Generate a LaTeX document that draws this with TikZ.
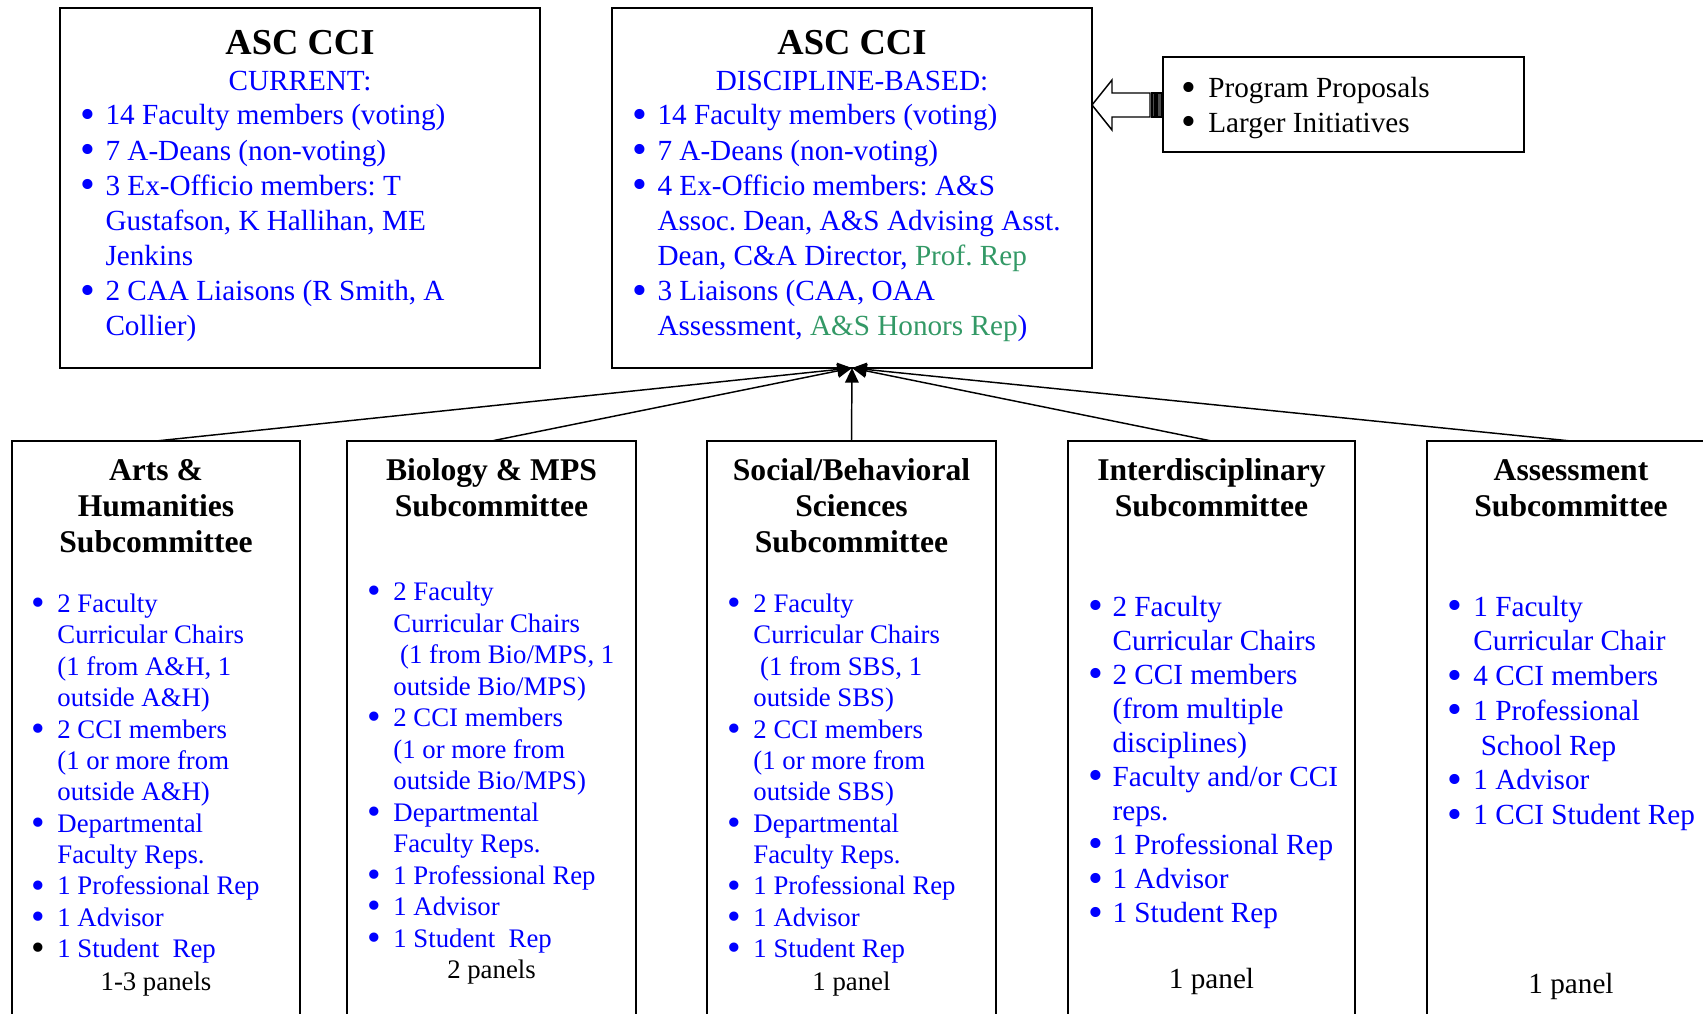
\documentclass[tikz,border=0pt]{standalone}
\usepackage{fontspec}
\setmainfont{Liberation Serif}
\usepackage{array}
\usepackage{graphicx}
\usetikzlibrary{arrows.meta,fit}
\definecolor{listblue}{RGB}{0,0,255}
\definecolor{repgreen}{RGB}{51,153,102}
\newcommand{\bt}{\raisebox{-0.12em}{\scalebox{1.45}{\textbullet}}}
\newcommand{\titlelines}[1]{\begin{tabular}[t]{@{}c@{}}#1\end{tabular}}
\frenchspacing

\begin{document}
\begin{tikzpicture}[
        x=0.411pt, y=-0.411pt,
        box/.style={draw, line width=0.8pt, inner sep=0pt, outer sep=0pt},
        lst/.style={anchor=base west, inner sep=0pt, text=listblue},
        ttl/.style={anchor=base, inner sep=0pt, font=\fontsize{13}{15}\selectfont\bfseries},
        head/.style={anchor=base, inner sep=0pt, font=\fontsize{15}{18}\selectfont\bfseries},
        panel/.style={anchor=base, inner sep=0pt},
        link/.style={line width=0.6pt, -{Triangle[length=6pt,width=5.6pt]}}
    ]
    \useasboundingbox (0,0) rectangle (1703,1014);

    % CCI current
    \node[box, fit={(60,8) (540,368)}] (cur) {};
    \node[head] (curhead) at (300,55) {ASC CCI};
    \node[panel, text=listblue, font=\fontsize{12}{14}\selectfont] (cursub) at (300,91) {CURRENT:};
    \node[lst, font=\fontsize{12}{14.45}\selectfont] (curlst) at (70,125) {%
        \begin{tabular}[t]{@{}wc{14.4pt}@{}l@{}}
            \bt & 14 Faculty members (voting)\\
            \bt & 7 A-Deans (non-voting)\\
            \bt & 3 Ex-Officio members: T\\
                & Gustafson, K Hallihan, ME\\
                & Jenkins\\
            \bt & 2 CAA Liaisons (R Smith, A\\
                & Collier)
        \end{tabular}};

    % CCI discipline-based
    \node[box, fit={(612,8) (1092,368)}] (disc) {};
    \node[head] (dischead) at (852,55) {ASC CCI};
    \node[panel, text=listblue, font=\fontsize{12}{14}\selectfont] (discsub) at (852,91) {DISCIPLINE-BASED:};
    \node[lst, font=\fontsize{12}{14.45}\selectfont] (disclst) at (622,125) {%
        \begin{tabular}[t]{@{}wc{14.4pt}@{}l@{}}
            \bt & 14 Faculty members (voting)\\
            \bt & 7 A-Deans (non-voting)\\
            \bt & 4 Ex-Officio members: A\&S\\
                & Assoc. Dean, A\&S Advising Asst.\\
                & Dean, C\&A Director, \textcolor{repgreen}{Prof. Rep}\\
            \bt & 3 Liaisons (CAA, OAA\\
                & Assessment, \textcolor{repgreen}{A\&S Honors Rep})
        \end{tabular}};

    % Proposals
    \node[box, fit={(1163,57) (1524,152)}] (prop) {};
    \node[lst, text=black, font=\fontsize{12}{14}\selectfont] (proplst) at (1168,98) {%
        \begin{tabular}[t]{@{}wc{16.4pt}@{}l@{}}
            \bt & Program Proposals\\
            \bt & Larger Initiatives
        \end{tabular}};
    \draw[line width=0.6pt, fill=white] (1092,105) -- (1112,80) -- (1112,93) -- (1150,93)
        -- (1150,117) -- (1112,117) -- (1112,130) -- cycle;
    \draw[line width=0.5pt, fill=black!70] (1152,93) rectangle (1155,117);
    \draw[line width=0.5pt, fill=black!70] (1157,93) rectangle (1162,117);

    % Subcommittees
    \node[box, fit={(12,441) (300,1040)}] (arts) {};
    \node[box, fit={(347,441) (636,1040)}] (bio) {};
    \node[box, fit={(707,441) (996,1040)}] (soc) {};
    \node[box, fit={(1068,441) (1355,1040)}] (inter) {};
    \node[box, fit={(1427,441) (1715,1040)}] (assess) {};

    \node[ttl] (artsttl) at (156,480) {\titlelines{Arts \&\\Humanities\\Subcommittee}};
    \node[ttl] (biottl) at (491.5,480) {\titlelines{Biology \& MPS\\Subcommittee}};
    \node[ttl] (socttl) at (851.5,480) {\titlelines{Social/Behavioral\\Sciences\\Subcommittee}};
    \node[ttl] (interttl) at (1211.5,480) {\titlelines{Interdisciplinary\\Subcommittee}};
    \node[ttl] (assessttl) at (1571,480) {\titlelines{Assessment\\Subcommittee}};

    \node[lst, font=\fontsize{11}{12.9}\selectfont] (artslst) at (19,612.5) {%
        \begin{tabular}[t]{@{}wc{15.6pt}@{}l@{}}
            \bt & 2 Faculty\\
                & Curricular Chairs\\
                & (1 from A\&H, 1\\
                & outside A\&H)\\
            \bt & 2 CCI members\\
                & (1 or more from\\
                & outside A\&H)\\
            \bt & Departmental\\
                & Faculty Reps.\\
            \bt & 1 Professional Rep\\
            \bt & 1 Advisor\\
            \textcolor{black}{\bt} & 1 Student\ \ Rep
        \end{tabular}};
    \node[lst, font=\fontsize{11}{12.95}\selectfont] (biolst) at (355,600.6) {%
        \begin{tabular}[t]{@{}wc{15.6pt}@{}l@{}}
            \bt & 2 Faculty\\
                & Curricular Chairs\\
                & \ (1 from Bio/MPS, 1\\
                & outside Bio/MPS)\\
            \bt & 2 CCI members\\
                & (1 or more from\\
                & outside Bio/MPS)\\
            \bt & Departmental\\
                & Faculty Reps.\\
            \bt & 1 Professional Rep\\
            \bt & 1 Advisor\\
            \bt & 1 Student\ \ Rep
        \end{tabular}};
    \node[lst, font=\fontsize{11}{12.9}\selectfont] (soclst) at (715,612.5) {%
        \begin{tabular}[t]{@{}wc{15.6pt}@{}l@{}}
            \bt & 2 Faculty\\
                & Curricular Chairs\\
                & \ (1 from SBS, 1\\
                & outside SBS)\\
            \bt & 2 CCI members\\
                & (1 or more from\\
                & outside SBS)\\
            \bt & Departmental\\
                & Faculty Reps.\\
            \bt & 1 Professional Rep\\
            \bt & 1 Advisor\\
            \bt & 1 Student Rep
        \end{tabular}};
    \node[lst, font=\fontsize{12}{14}\selectfont] (interlst) at (1078,616) {%
        \begin{tabular}[t]{@{}wc{14pt}@{}l@{}}
            \bt & 2 Faculty\\
                & Curricular Chairs\\
            \bt & 2 CCI members\\
                & (from multiple\\
                & disciplines)\\
            \bt & Faculty and/or CCI\\
                & reps.\\
            \bt & 1 Professional Rep\\
            \bt & 1 Advisor\\
            \bt & 1 Student Rep
        \end{tabular}};
    \node[lst, font=\fontsize{12}{14.3}\selectfont] (assesslst) at (1435,616) {%
        \begin{tabular}[t]{@{}wc{15.6pt}@{}l@{}}
            \bt & 1 Faculty\\
                & Curricular Chair\\
            \bt & 4 CCI members\\
            \bt & 1 Professional\\
                & \ School Rep\\
            \bt & 1 Advisor\\
            \bt & 1 CCI Student Rep
        \end{tabular}};

    \node[panel, font=\fontsize{11}{13}\selectfont] (artspan) at (156,990) {1-3 panels};
    \node[panel, font=\fontsize{11}{13}\selectfont] (biopan) at (491.5,978) {2 panels};
    \node[panel, font=\fontsize{11}{13}\selectfont] (socpan) at (851.5,990) {1 panel};
    \node[panel, font=\fontsize{12}{14}\selectfont] (interpan) at (1211.5,988) {1 panel};
    \node[panel, font=\fontsize{12}{14}\selectfont] (assesspan) at (1571,993) {1 panel};

    % Links
    \foreach \sub in {arts,bio,soc,inter,assess}
        \draw[link] (\sub.north) -- (disc.south);
\end{tikzpicture}
\end{document}
